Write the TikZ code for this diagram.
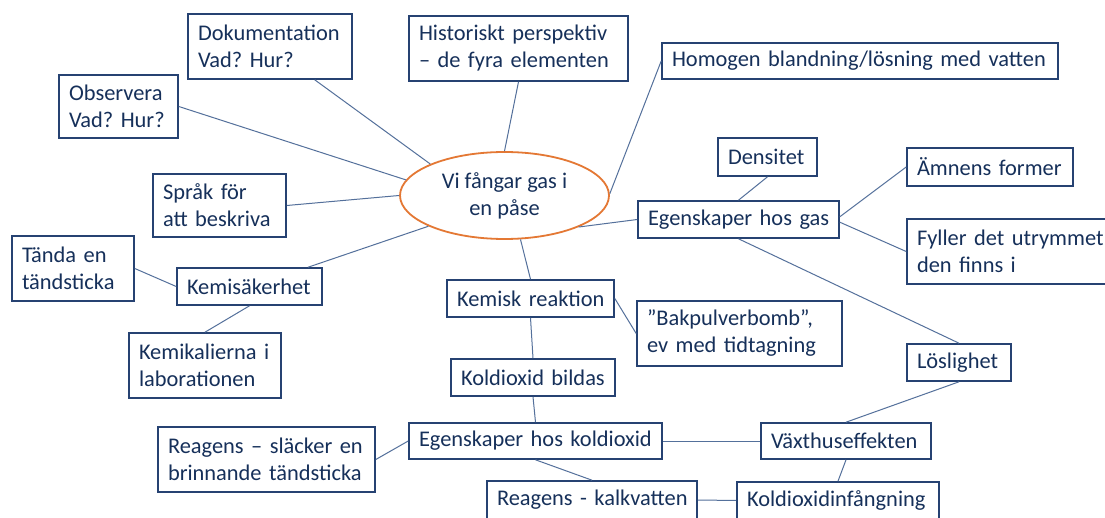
\documentclass[tikz,border=0pt]{standalone}
\usepackage{fontspec}
\setmainfont{Carlito}
\usetikzlibrary{calc,shapes.geometric}
\definecolor{txt}{RGB}{22,48,90}
\definecolor{bord}{RGB}{38,66,114}
\definecolor{connc}{RGB}{84,112,155}
\definecolor{orng}{RGB}{228,120,52}
\newcommand{\ml}[1]{\mbox{#1}}
\frenchspacing
\begin{document}
\begin{tikzpicture}[x=1pt,y=-1pt,
  box/.style={draw=bord, line width=1.6pt, rectangle, inner xsep=10pt, inner ysep=0pt,
    align=left, text=txt, fill=white, font=\fontsize{22.4}{27}\selectfont\frenchspacing},
  link/.style={draw=connc, line width=1pt},
  hub/.style={ellipse, draw=orng, line width=1.8pt, fill=white, inner sep=0pt,
    align=center, text=txt, font=\fontsize{22.4}{27}\selectfont}]
\useasboundingbox (0,0) rectangle (1105,518);
\fill[white] (0,0) rectangle (1105,518);

\node[hub, minimum width=209pt, minimum height=87pt] (c) at (504.5,195.5) {\ml{Vi fångar gas i}\\\ml{en påse}};

\node[box, minimum height=65pt, text width=144pt] (dok) at (270,46.5) {\ml{Dokumentation}\\\ml{Vad? Hur?}};
\node[box, minimum height=63pt, text width=99pt] (obs) at (118.5,106.5) {\ml{Observera}\\\ml{Vad? Hur?}};
\node[box, minimum height=63pt, text width=113pt] (sprak) at (219.5,205.5) {\ml{Språk för}\\\ml{att beskriva}};
\node[box, minimum height=65pt, text width=199pt] (hist) at (518.5,48.5) {\ml{Historiskt perspektiv}\\\ml{– de fyra elementen}};
\node[box, minimum height=36pt, text width=376pt] (homo) at (860,61) {\ml{Homogen blandning/lösning med vatten}};
\node[box, minimum height=38pt, text width=79pt] (dens) at (767.5,157) {\ml{Densitet}};
\node[box, minimum height=37pt, text width=181pt] (egas) at (738.5,219.5) {\ml{Egenskaper hos gas}};
\node[box, minimum height=38pt, text width=146pt] (amnen) at (990,167) {\ml{Ämnens former}};
\node[box, minimum height=65pt, text width=185pt] (fyller) at (1009.5,251.5) {\ml{Fyller det utrymmet}\\\ml{den finns i}};
\node[box, minimum height=65pt, text width=185pt] (bak) at (739.5,333.5) {\ml{”Bakpulverbomb”,}\\\ml{ev med tidtagning}};
\node[box, minimum height=37pt, text width=84pt] (los) at (959,362.5) {\ml{Löslighet}};
\node[box, minimum height=65pt, text width=102pt] (tanda) at (73,268.5) {\ml{Tända en}\\\ml{tändsticka}};
\node[box, minimum height=37pt, text width=125pt] (kemsak) at (249.5,286.5) {\ml{Kemisäkerhet}};
\node[box, minimum height=65pt, text width=132pt] (kemikal) at (205,365.5) {\ml{Kemikalierna i}\\\ml{laborationen}};
\node[box, minimum height=65pt, text width=197pt] (reag1) at (266.5,459.5) {\ml{Reagens – släcker en}\\\ml{brinnande tändsticka}};
\node[box, minimum height=37pt, text width=147pt] (kemrea) at (530.5,298.5) {\ml{Kemisk reaktion}};
\node[box, minimum height=37pt, text width=144pt] (kbild) at (533,377.5) {\ml{Koldioxid bildas}};
\node[box, minimum height=36pt, text width=233pt] (egko) at (535.5,441) {\ml{Egenskaper hos koldioxid}};
\node[box, minimum height=36pt, text width=150pt] (vaxt) at (846,441) {\ml{Växthuseffekten}};
\node[box, minimum height=38pt, text width=190pt] (reag2) at (592,500) {\ml{Reagens - kalkvatten}};
\node[box, minimum height=37pt, text width=182pt] (kinf) at (838,500.5) {\ml{Koldioxidinfångning}};

% connectors from the hub
\draw[link] ($(dok.south west)!0.77!(dok.south east)$) -- (c.157.4);
\draw[link] (obs.east) -- (c.171.7);
\draw[link] (sprak.east) -- (c.180);
\draw[link] ($(kemsak.north west)!0.9!(kemsak.north east)$) -- (c.202.9);
\draw[link] (hist.south) -- (c.90);
\draw[link] (homo.west) -- (c.1.4);
\draw[link] (egas.west) -- (c.-23.2);
\draw[link] (kemrea.north) -- (c.-70.8);

% gas branch
\draw[link] (dens.south) -- (egas.north);
\draw[link] ($(egas.north east)!0.43!(egas.south east)$) -- (amnen.west);
\draw[link] ($(egas.north east)!0.57!(egas.south east)$) -- (fyller.west);
\draw[link] (egas.south) -- (los.north);

% safety branch
\draw[link] (tanda.east) -- (kemsak.west);
\draw[link] (kemsak.south) -- (kemikal.north);

% reaction branch
\draw[link] (kemrea.east) -- (bak.west);
\draw[link] (kemrea.south) -- (kbild.north);
\draw[link] (kbild.south) -- (egko.north);
\draw[link] (reag1.east) -- (egko.west);
\draw[link] (egko.east) -- (vaxt.west);
\draw[link] (egko.south) -- (reag2.north);
\draw[link] (reag2.east) -- (kinf.west);
\draw[link] (los.south) -- (vaxt.north);
\draw[link] (vaxt.south) -- (kinf.north);
\end{tikzpicture}
\end{document}
